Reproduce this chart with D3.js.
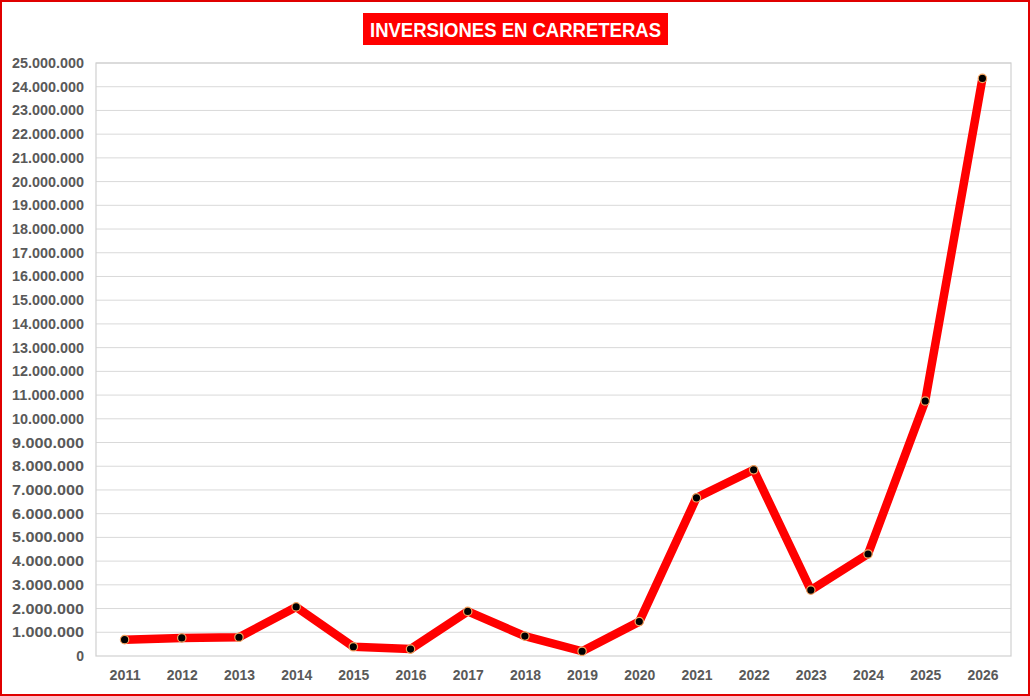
<!DOCTYPE html>
<html><head><meta charset="utf-8">
<script src="https://cdn.jsdelivr.net/npm/d3@7"></script>
<style>
html,body{margin:0;padding:0;background:#fff;}
svg{display:block;}
</style></head>
<body>
<svg id="chart" width="1030" height="696"></svg>
<script>
const title = "INVERSIONES EN CARRETERAS";
const years = ["2011","2012","2013","2014","2015","2016","2017","2018","2019","2020","2021","2022","2023","2024","2025","2026"];
const values = [690000,760000,790000,2070000,390000,290000,1880000,840000,200000,1450000,6670000,7850000,2780000,4300000,10750000,24350000];
const yTicks = d3.range(0, 25000001, 1000000);

const W = 1030, H = 696;
const m = {left:96, right:1011, top:63, bottom:656};
const svg = d3.select("#chart");

// outer frame
svg.append("rect").attr("x",1).attr("y",1).attr("width",W-2).attr("height",H-2)
  .attr("fill","#fff").attr("stroke","#e00000").attr("stroke-width",2);

const x = d3.scalePoint().domain(years).range([m.left, m.right]).padding(0.5);
const y = d3.scaleLinear().domain([0,25000000]).range([m.bottom, m.top]);

const fmt = v => v === 0 ? "0" : d3.format(",")(v).replace(/,/g,".");

// gridlines
svg.append("g").selectAll("line").data(yTicks.filter(d=>d>0)).join("line")
  .attr("x1",m.left).attr("x2",m.right)
  .attr("y1",d=>y(d)).attr("y2",d=>y(d))
  .attr("stroke","#d9d9d9").attr("stroke-width",1);

// plot border
svg.append("rect").attr("x",m.left).attr("y",m.top)
  .attr("width",m.right-m.left).attr("height",m.bottom-m.top)
  .attr("fill","none").attr("stroke","#d0d0d0").attr("stroke-width",1.2);

const font = "'Liberation Sans',Arial,sans-serif";

// y axis labels
const yAxis = d3.axisLeft(y).tickValues(yTicks).tickFormat(fmt).tickSize(0).tickPadding(12);
const gy = svg.append("g").attr("transform",`translate(${m.left},0)`).call(yAxis);
gy.select(".domain").remove();
gy.selectAll("text").attr("font-family",font)
  .attr("font-weight","bold").attr("font-size","14px").attr("fill","#595959")
  .attr("textLength", d => d === 0 ? null : 72).attr("lengthAdjust","spacingAndGlyphs");

// x axis labels
const xAxis = d3.axisBottom(x).tickSize(0).tickPadding(14);
const gx = svg.append("g").attr("transform",`translate(0,${m.bottom})`).call(xAxis);
gx.select(".domain").remove();
gx.selectAll("text").attr("font-family",font)
  .attr("font-weight","bold").attr("font-size","14px").attr("fill","#595959")
  .attr("textLength",31).attr("lengthAdjust","spacingAndGlyphs");

// line
const line = d3.line().x((d,i)=>x(years[i])).y(d=>y(d));
svg.append("path").datum(values).attr("d",line)
  .attr("fill","none").attr("stroke","#ff0000").attr("stroke-width",8.5)
  .attr("stroke-linejoin","round").attr("stroke-linecap","butt");

// markers
svg.append("g").selectAll("circle").data(values).join("circle")
  .attr("cx",(d,i)=>x(years[i])).attr("cy",d=>y(d)).attr("r",4.2)
  .attr("fill","#000").attr("stroke","#f4a460").attr("stroke-width",1.2);

// title
const tg = svg.append("g");
tg.append("rect").attr("x",363).attr("y",13).attr("width",305).attr("height",32).attr("fill","#ff0000");
tg.append("text").attr("x",515.5).attr("y",36.5).attr("text-anchor","middle")
  .attr("font-family",font)
  .attr("font-weight","bold").attr("font-size","20.5px").attr("fill","#fff")
  .attr("textLength",291).attr("lengthAdjust","spacingAndGlyphs").text(title);
</script>
</body></html>
